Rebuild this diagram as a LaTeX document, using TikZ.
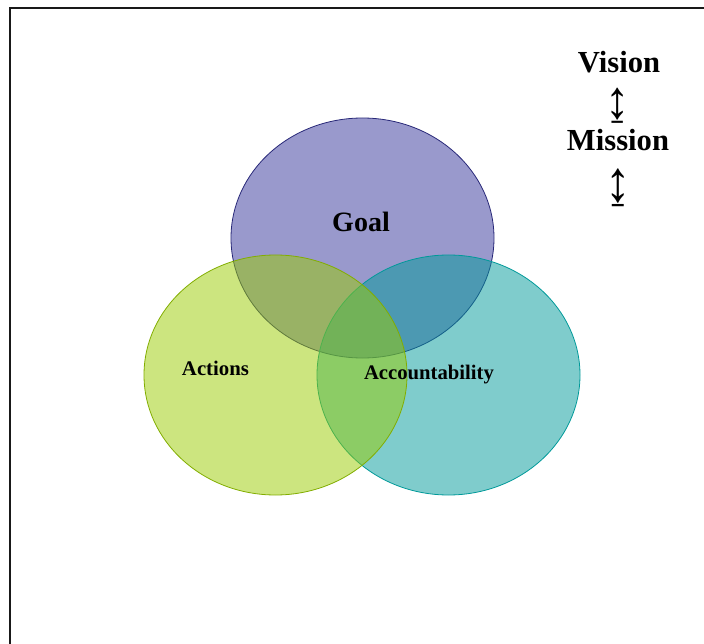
\documentclass[tikz,border=0pt]{standalone}
\usepackage{fontspec}
\setmainfont{Liberation Serif}
\definecolor{goalc}{RGB}{51,51,153}
\definecolor{goalb}{RGB}{40,40,120}
\definecolor{actc}{RGB}{153,204,0}
\definecolor{accc}{RGB}{0,153,153}
\begin{document}
\begin{tikzpicture}[x=1pt,y=-1pt,
  venn/.style={line width=0.8pt, fill opacity=0.5},
  lbl/.style={font=\bfseries, inner sep=0pt, text=black},
  arr/.style={inner sep=0pt, text=black}]
\useasboundingbox (0,0) rectangle (704,644);
\draw[line width=2.2pt, color=black!90] (10,650) -- (10,8) -- (710,8);
% circles: Goal, Accountability, Actions (stacking order)
\path[venn, fill=goalc, draw=goalb] (362.5,238) ellipse [x radius=131.5, y radius=120];
\path[venn, fill=accc, draw=accc] (448.5,375) ellipse [x radius=131.5, y radius=120];
\path[venn, fill=actc, draw=actc!85!black] (275.5,375) ellipse [x radius=131.5, y radius=120];
% labels
\node[lbl, font=\fontsize{28}{32}\selectfont\bfseries] (goal) at (361,222) {Goal};
\node[lbl, font=\fontsize{20.8}{24}\selectfont\bfseries] (actions) at (215.5,368) {Actions};
\node[lbl, font=\fontsize{20.7}{24}\selectfont\bfseries] (acc) at (429,375) {Accountability};
\node[lbl, font=\fontsize{30.6}{34}\selectfont\bfseries] (vision) at (619,62) {Vision};
\node[arr, font=\fontsize{54}{56}\selectfont] (a1) at (618,106) {\scalebox{0.9}[1]{↨}};
\node[lbl, font=\fontsize{30.6}{34}\selectfont\bfseries] (mission) at (618,140) {Mission};
\node[arr, font=\fontsize{58}{60}\selectfont] (a2) at (618,188) {\scalebox{0.88}[1]{↨}};
\end{tikzpicture}
\end{document}
